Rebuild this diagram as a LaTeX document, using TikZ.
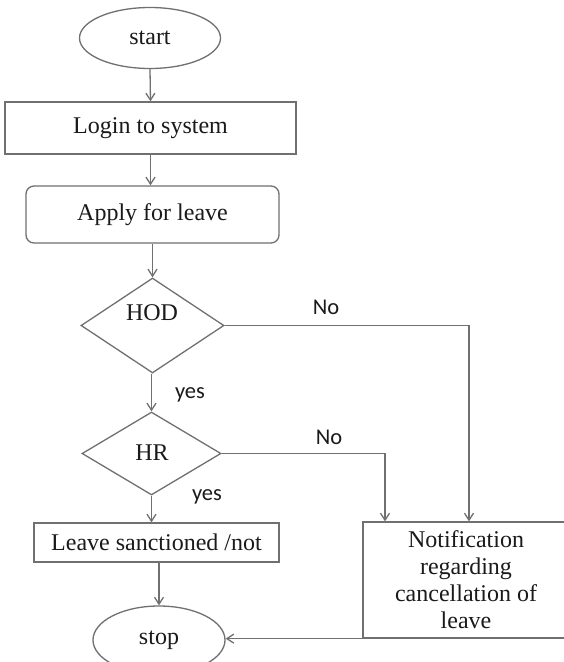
\documentclass[tikz,border=0pt]{standalone}
\usepackage{fontspec}
\setmainfont{Liberation Serif}
\newfontfamily\labelfont{Carlito}
\usetikzlibrary{shapes.geometric,arrows.meta}

\definecolor{linegray}{HTML}{707070}
\definecolor{inkgray}{HTML}{1a1a1a}

\tikzset{
  boxfont/.style={font=\fontsize{24pt}{27pt}\selectfont},
  base/.style={draw=linegray, line width=1.3pt, text=inkgray, inner sep=0pt,
    boxfont, align=center},
  term/.style={base, ellipse},
  procbox/.style={base, rectangle},
  decision/.style={base, diamond},
  txt/.style={text=inkgray, inner sep=0pt, boxfont},
  lbl/.style={text=inkgray, inner sep=0pt, font=\labelfont\fontsize{22.5pt}{26pt}\selectfont},
  conn/.style={draw=linegray, line width=1.3pt},
  arr/.style={conn, -{Straight Barb[length=7pt,width=9pt]}},
}

\begin{document}
\begin{tikzpicture}[x=1pt,y=-1pt]
\clip (0,0) rectangle (564,662);
\fill[white] (0,0) rectangle (564,662);

% main column
\node[term, minimum width=141pt, minimum height=61pt] (start) at (150,38) {start};
\node[procbox, minimum width=291pt, minimum height=52pt] (login) at (150.5,128) {Login to system};
\node[procbox, rounded corners=8pt, minimum width=253pt, minimum height=57pt] (apply) at (152.5,214.5) {Apply for leave};
\node[decision, minimum width=143pt, minimum height=95pt] (hod) at (152.5,325.5) {};
\node[txt] (hodtxt) at (152,313) {HOD};
\node[decision, minimum width=139pt, minimum height=83pt] (hr) at (151.5,453.5) {};
\node[txt] (hrtxt) at (152,453) {HR};
\node[procbox, minimum width=245pt, minimum height=39pt] (leave) at (156.5,542.5) {Leave sanctioned /not};
\node[term, minimum width=132pt, minimum height=68pt] (stop) at (159,640) {stop};

% notification box on the right
\node[procbox, minimum width=206pt, minimum height=116pt] (notif) at (466,580)
  {Notification\\regarding\\cancellation of\\leave};

% entry points on top of the notification box
\coordinate (hodin) at (469,0);
\coordinate (hrin) at (385,0);

% connectors
\draw[arr] (start.south) -- (login.north);
\draw[arr] (login.south) -- (login.south |- apply.north);
\draw[arr] (apply.south) -- (apply.south |- hod.north);
\draw[arr] (hr.north |- hod.south) -- (hr.north);
\draw[arr] (hr.south) -- (hr.south |- leave.north);
\draw[arr] (stop.north |- leave.south) -- (stop.north);
\draw[arr] (hod.east) -| (hodin |- notif.north);
\draw[arr] (hr.east) -| (hrin |- notif.north);
\draw[arr] (notif.south west) -- (notif.south west -| stop.east);

% branch labels
\node[lbl] (no1) at (326,307) {No};
\node[lbl] (yes1) at (190,395) {yes};
\node[lbl] (no2) at (329,437) {No};
\node[lbl] (yes2) at (207,497) {yes};
\end{tikzpicture}
\end{document}
